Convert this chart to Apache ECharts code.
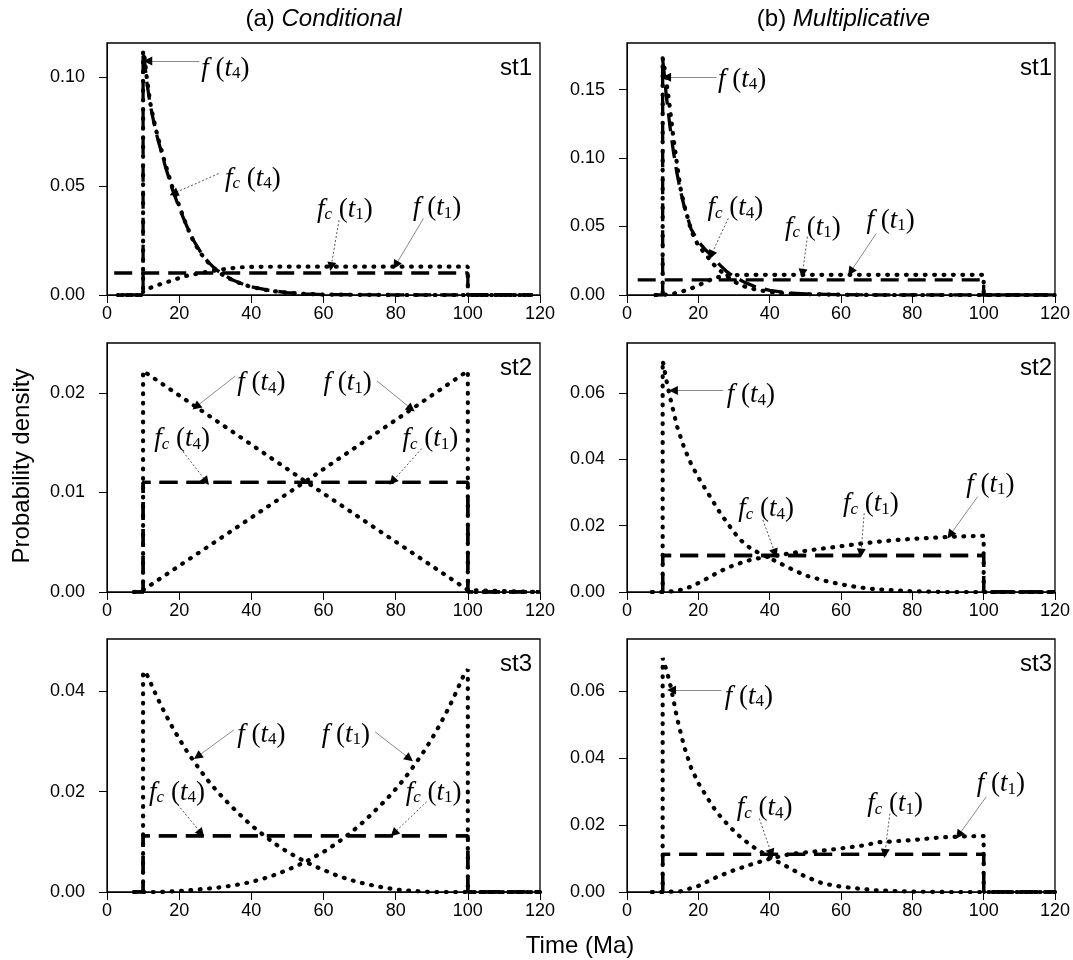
<!DOCTYPE html>
<html><head><meta charset="utf-8">
<script src="https://cdn.jsdelivr.net/npm/echarts@6/dist/echarts.min.js"></script>
<style>html,body{margin:0;padding:0;background:#fff}#c{width:1073px;height:960px}</style>
</head><body><div id="c"></div>
<script>
// ---------- axis ticks ----------
const xTicks = [0, 20, 40, 60, 80, 100, 120];
const A1_yTicks = [0, 0.05, 0.10];
const B1_yTicks = [0, 0.05, 0.10, 0.15];
const A2_yTicks = [0, 0.01, 0.02];
const B2_yTicks = [0, 0.02, 0.04, 0.06];
const A3_yTicks = [0, 0.02, 0.04];
const B3_yTicks = [0, 0.02, 0.04, 0.06];
const yMaxes = [0.1156, 0.184, 0.025, 0.075, 0.0504, 0.0755];
const panelNames = ['st1', 'st1', 'st2', 'st2', 'st3', 'st3'];

// ---------- (a) Conditional, st1 ----------
const A1_t4_x = [4, 10, 10, 10.5, 11, 12, 13, 14, 15, 16, 18, 20, 22, 24, 26, 28, 30, 32, 35, 38, 40, 45, 50, 55, 60, 70, 80, 100, 118];
const A1_f_t4 = [0, 0, 0.112, 0.108, 0.100, 0.088, 0.080, 0.073, 0.067, 0.061, 0.050, 0.041, 0.032, 0.0245, 0.019, 0.015, 0.0118, 0.0093, 0.0066, 0.0047, 0.0037, 0.002, 0.001, 0.0005, 0.0002, 0.0001, 0, 0, 0];
const A1_fc_t4 = [0, 0, 0.112, 0.106, 0.098, 0.087, 0.079, 0.072, 0.066, 0.060, 0.049, 0.040, 0.032, 0.025, 0.0195, 0.0152, 0.012, 0.0095, 0.0068, 0.0048, 0.0038, 0.0021, 0.0011, 0.0005, 0.0002, 0.0001, 0, 0, 0];
const A1_t1_x = [3, 10, 10, 12, 14, 16, 18, 20, 22, 25, 28, 31, 34, 37, 40, 50, 60, 70, 80, 90, 100, 100, 118];
const A1_f_t1 = [0, 0, 0.002, 0.0033, 0.0045, 0.0056, 0.0066, 0.0078, 0.0088, 0.0098, 0.0107, 0.0115, 0.0122, 0.0127, 0.0129, 0.013, 0.013, 0.013, 0.013, 0.013, 0.013, 0, 0];
const A1_c1_x = [2, 100, 100, 118];
const A1_fc_t1 = [0.0101, 0.0101, 0, 0];

// ---------- (b) Multiplicative, st1 ----------
const B1_t4_x = [8, 10, 10, 10.5, 11, 12, 13, 14, 15, 16, 18, 20, 22, 24, 26, 28, 30, 33, 36, 40, 45, 50, 60, 70, 100, 120];
const B1_f_t4 = [0, 0, 0.173, 0.166, 0.157, 0.137, 0.115, 0.096, 0.078, 0.066, 0.047, 0.036, 0.030, 0.023, 0.018, 0.0138, 0.0098, 0.0062, 0.004, 0.0022, 0.0011, 0.0006, 0.0002, 0, 0, 0];
const B1_fc_t4 = [0, 0, 0.172, 0.160, 0.146, 0.124, 0.105, 0.089, 0.076, 0.065, 0.048, 0.039, 0.033, 0.028, 0.022, 0.017, 0.0135, 0.0092, 0.006, 0.0034, 0.0016, 0.0008, 0.0002, 0, 0, 0];
const B1_t1_x = [8, 10, 13, 16, 19, 22, 25, 28, 31, 35, 40, 50, 60, 70, 80, 90, 100, 100, 120];
const B1_f_t1 = [0, 0, 0.001, 0.003, 0.0058, 0.0095, 0.0128, 0.0143, 0.0146, 0.0147, 0.0147, 0.0147, 0.0147, 0.0147, 0.0147, 0.0147, 0.0147, 0, 0];
const B1_c1_x = [3, 100, 100, 120];
const B1_fc_t1 = [0.011, 0.011, 0, 0];

// ---------- (a) Conditional, st2 ----------
const A2_t4_x = [7.5, 10, 10, 55, 100, 100, 120];
const A2_f_t4 = [0, 0, 0.0222, 0.0111, 0.0002, 0, 0];
const A2_t1_x = [7.5, 10, 55, 100, 100, 120];
const A2_f_t1 = [0, 0.0002, 0.0111, 0.0222, 0, 0];
const A2_c_x = [7.5, 10, 10, 100, 100, 120];
const A2_fc_t4 = [0, 0, 0.011, 0.011, 0, 0];
const A2_fc_t1 = [0, 0, 0.011, 0.011, 0, 0];

// ---------- (b) Multiplicative, st2 ----------
const B2_t4_x = [7, 10, 10, 10.5, 11, 12, 13, 14, 16, 18, 20, 22, 24, 26, 28, 30, 32, 35, 38, 40, 45, 50, 55, 60, 65, 70, 80, 90, 100, 120];
const B2_f_t4 = [0, 0, 0.0697, 0.067, 0.064, 0.059, 0.0545, 0.050, 0.0435, 0.0385, 0.0345, 0.031, 0.0275, 0.024, 0.021, 0.018, 0.0155, 0.0128, 0.0113, 0.0102, 0.0075, 0.005, 0.0035, 0.0023, 0.0014, 0.0008, 0.0002, 0, 0, 0];
const B2_t1_x = [7, 10, 14, 18, 22, 26, 30, 35, 40, 45, 50, 55, 60, 65, 70, 75, 80, 85, 90, 95, 100, 100, 120];
const B2_f_t1 = [0, 0, 0.0003, 0.0016, 0.0038, 0.0062, 0.0081, 0.0098, 0.0107, 0.0115, 0.0124, 0.0131, 0.0138, 0.0145, 0.0151, 0.0156, 0.016, 0.0163, 0.0166, 0.0168, 0.0169, 0, 0];
const B2_c_x = [10, 10, 100, 100, 120];
const B2_fc_t4 = [0, 0.011, 0.011, 0, 0];
const B2_fc_t1 = [0, 0.011, 0.011, 0, 0];

// ---------- (a) Conditional, st3 ----------
const A3_t4_x = [7.5, 10, 10, 11, 12, 14, 16, 18, 20, 22, 24, 26, 28, 30, 32, 34, 36, 38, 40, 42, 44, 46, 48, 50, 52, 55, 58, 61, 64, 67, 70, 75, 80, 85, 90, 100, 120];
const A3_f_t4 = [0, 0, 0.0439, 0.0434, 0.0418, 0.0386, 0.0357, 0.033, 0.0305, 0.0282, 0.0261, 0.0241, 0.0222, 0.0205, 0.0189, 0.0174, 0.016, 0.0146, 0.0133, 0.0121, 0.011, 0.0099, 0.0089, 0.008, 0.0072, 0.006, 0.005, 0.0041, 0.0032, 0.0025, 0.0019, 0.0011, 0.0005, 0.0002, 0, 0, 0];
const A3_t1_x = [7.5, 10, 15, 20, 25, 30, 35, 40, 45, 50, 55, 58, 61, 64, 67, 70, 72, 74, 76, 78, 80, 82, 84, 86, 88, 90, 92, 94, 96, 98, 99, 100, 100, 120];
const A3_f_t1 = [0, 0, 0, 0.0002, 0.0005, 0.0008, 0.0013, 0.002, 0.003, 0.0044, 0.006, 0.0072, 0.0084, 0.0099, 0.0115, 0.0133, 0.0146, 0.016, 0.0174, 0.0189, 0.0205, 0.0222, 0.0241, 0.0261, 0.0282, 0.0305, 0.033, 0.0357, 0.0386, 0.0418, 0.0434, 0.0443, 0, 0];
const A3_c_x = [7.5, 10, 10, 100, 100, 120];
const A3_fc_t4 = [0, 0, 0.0112, 0.0112, 0, 0];
const A3_fc_t1 = [0, 0, 0.0112, 0.0112, 0, 0];

// ---------- (b) Multiplicative, st3 ----------
const B3_t4_x = [7, 10, 10, 10.5, 11, 12, 13, 14, 16, 18, 20, 22, 24, 26, 28, 30, 32, 35, 38, 40, 45, 50, 55, 60, 65, 70, 80, 90, 100, 120];
const B3_f_t4 = [0, 0, 0.0698, 0.068, 0.0665, 0.0625, 0.0575, 0.052, 0.0435, 0.037, 0.0325, 0.029, 0.0256, 0.0228, 0.0204, 0.0182, 0.0162, 0.0137, 0.0117, 0.0103, 0.0075, 0.0046, 0.0025, 0.0016, 0.001, 0.0005, 0.0001, 0, 0, 0];
const B3_t1_x = [7, 10, 15, 20, 25, 30, 35, 40, 46, 52, 60, 67, 70, 80, 88, 95, 100, 100, 120];
const B3_f_t1 = [0, 0, 0.0002, 0.0018, 0.0044, 0.0065, 0.0083, 0.0099, 0.0114, 0.012, 0.013, 0.014, 0.0148, 0.0155, 0.0163, 0.0166, 0.0167, 0, 0];
const B3_c_x = [10, 10, 100, 100, 120];
const B3_fc_t4 = [0, 0.0112, 0.0112, 0, 0];
const B3_fc_t1 = [0, 0.0112, 0.0112, 0, 0];

// ---------- annotations: [key, labelX, labelY, tailX, tailY, tipX, tipY] (data coords) ----------
const A1_notes = [['f4', 32.8, 0.105, 25.6, 0.1073, 11.3, 0.1073], ['fc4', 40.4, 0.0546, 30.9, 0.0557, 18.5, 0.0466], ['fc1', 65.9, 0.0402, 64.3, 0.0343, 62.1, 0.013], ['f1', 91.5, 0.0409, 87.7, 0.0351, 80.0, 0.0137]];
const B1_notes = [['f4', 32.3, 0.159, 25.1, 0.159, 11.1, 0.159], ['fc4', 30.4, 0.0652, 28.4, 0.056, 23.6, 0.0292], ['fc1', 52.1, 0.0511, 50.6, 0.0426, 49.2, 0.0158], ['f1', 73.9, 0.056, 69.9, 0.045, 62.7, 0.017]];
const A2_notes = [['f4', 42.8, 0.0212, 35.6, 0.0217, 24.7, 0.0186], ['f1', 66.7, 0.0212, 74.8, 0.0212, 84.3, 0.0184], ['fc4', 20.8, 0.0156, 20.4, 0.0144, 27.5, 0.0111], ['fc1', 89.6, 0.0156, 87.2, 0.0144, 79.1, 0.0111]];
const B2_notes = [['f4', 34.7, 0.060, 27, 0.0607, 13, 0.0607], ['fc4', 39.0, 0.0257, 38.1, 0.0217, 41.5, 0.0117], ['fc1', 68.4, 0.0272, 66.5, 0.0237, 65.6, 0.0117], ['f1', 101.9, 0.033, 98.3, 0.0287, 90.6, 0.0172]];
const A3_notes = [['f4', 42.8, 0.0318, 35.2, 0.0323, 25.1, 0.027], ['f1', 66.2, 0.0318, 74.3, 0.0319, 83.8, 0.0266], ['fc4', 19.4, 0.0203, 18.9, 0.018, 26.1, 0.0117], ['fc1', 90.5, 0.0203, 88.6, 0.018, 79.5, 0.0117]];
const B3_notes = [['f4', 34.2, 0.0591, 26.5, 0.0603, 12.5, 0.0603], ['fc4', 38.6, 0.0257, 37.1, 0.0219, 40.5, 0.0115], ['fc1', 75.2, 0.0269, 73.7, 0.0234, 72.3, 0.0115], ['f1', 104.8, 0.0329, 100.7, 0.0284, 93, 0.017]];

// ---------- styling ----------
const SANS = 'Liberation Sans, Arial, sans-serif';
const SERIF = 'Liberation Serif, Times New Roman, serif';
const gridBoxes = [
  {left: 107, top: 43, width: 433, height: 252},
  {left: 627, top: 43, width: 433, height: 252},
  {left: 107, top: 343, width: 433, height: 249},
  {left: 627, top: 343, width: 433, height: 249},
  {left: 107, top: 639, width: 433, height: 253},
  {left: 627, top: 639, width: 433, height: 253}
];
const dotStyle = {color: '#000', width: 4.2, type: [0.8, 8.6], cap: 'round'};
const dashStyle = {color: '#000', width: 3.3, type: [18, 9], cap: 'butt'};
const fArrow = {color: '#8a8a8a', width: 1, type: 'solid'};
const fcArrow = {color: '#555', width: 1, type: [2, 2]};
const headStyle = {color: '#000', width: 0.5, type: 'solid'};

const noteText = {
  f4: '{i|f}{r| (}{i|t}{s|4}{r|)}',
  f1: '{i|f}{r| (}{i|t}{s|1}{r|)}',
  fc4: '{i|f}{si|c}{r| (}{i|t}{s|4}{r|)}',
  fc1: '{i|f}{si|c}{r| (}{i|t}{s|1}{r|)}'
};
const rich = {
  i: {fontFamily: SERIF, fontStyle: 'italic', fontSize: 27, lineHeight: 32, verticalAlign: 'bottom', color: '#000', textBorderWidth: 0},
  r: {fontFamily: SERIF, fontSize: 27, lineHeight: 32, verticalAlign: 'bottom', color: '#000', textBorderWidth: 0},
  s: {fontFamily: SERIF, fontSize: 17, lineHeight: 16, verticalAlign: 'bottom', color: '#000', textBorderWidth: 0},
  si: {fontFamily: SERIF, fontStyle: 'italic', fontSize: 17, lineHeight: 16, verticalAlign: 'bottom', color: '#000', textBorderWidth: 0}
};

const panels = [
  {yTicks: A1_yTicks, notes: A1_notes, dashed: [[A1_t4_x, A1_fc_t4], [A1_c1_x, A1_fc_t1]], dotted: [[A1_t4_x, A1_f_t4], [A1_t1_x, A1_f_t1]]},
  {yTicks: B1_yTicks, notes: B1_notes, dashed: [[B1_t4_x, B1_fc_t4], [B1_c1_x, B1_fc_t1]], dotted: [[B1_t4_x, B1_f_t4], [B1_t1_x, B1_f_t1]]},
  {yTicks: A2_yTicks, notes: A2_notes, dashed: [[A2_c_x, A2_fc_t4], [A2_c_x, A2_fc_t1]], dotted: [[A2_t4_x, A2_f_t4], [A2_t1_x, A2_f_t1]]},
  {yTicks: B2_yTicks, notes: B2_notes, dashed: [[B2_c_x, B2_fc_t4], [B2_c_x, B2_fc_t1]], dotted: [[B2_t4_x, B2_f_t4], [B2_t1_x, B2_f_t1]]},
  {yTicks: A3_yTicks, notes: A3_notes, dashed: [[A3_c_x, A3_fc_t4], [A3_c_x, A3_fc_t1]], dotted: [[A3_t4_x, A3_f_t4], [A3_t1_x, A3_f_t1]]},
  {yTicks: B3_yTicks, notes: B3_notes, dashed: [[B3_c_x, B3_fc_t4], [B3_c_x, B3_fc_t1]], dotted: [[B3_t4_x, B3_f_t4], [B3_t1_x, B3_f_t1]]}
];

const grid = [], xAxis = [], yAxis = [], series = [], graphic = [];
panels.forEach((p, gi) => {
  const g = gridBoxes[gi];
  grid.push(Object.assign({show: true, borderColor: '#000', borderWidth: 1.3, backgroundColor: 'transparent'}, g));
  xAxis.push({
    type: 'value', gridIndex: gi, min: 0, max: 120, interval: 20,
    axisLine: {show: true, onZero: false, lineStyle: {color: '#000', width: 1}},
    axisTick: {show: true, length: 8, customValues: xTicks, lineStyle: {color: '#000', width: 1}},
    axisLabel: {customValues: xTicks, fontSize: 18, color: '#000', fontFamily: SANS, margin: 10},
    splitLine: {show: false}
  });
  yAxis.push({
    type: 'value', gridIndex: gi, min: 0, max: yMaxes[gi],
    axisLine: {show: true, onZero: false, lineStyle: {color: '#000', width: 1}},
    axisTick: {show: true, length: 8, customValues: p.yTicks, lineStyle: {color: '#000', width: 1}},
    axisLabel: {customValues: p.yTicks, fontSize: 18, color: '#000', fontFamily: SANS, margin: 22,
      formatter: v => Number(v).toFixed(2)},
    splitLine: {show: false}
  });
  const mk = (pair, style, z) => ({
    type: 'line', xAxisIndex: gi, yAxisIndex: gi, silent: true, animation: false,
    symbol: 'none', showSymbol: false, z: z,
    data: pair[0].map((x, i) => [x, pair[1][i]]),
    lineStyle: style
  });
  p.dashed.forEach(pr => series.push(mk(pr, dashStyle, 2)));
  p.dotted.forEach(pr => series.push(mk(pr, dotStyle, 3)));
  // arrow shafts (no heads)
  const shafts = p.notes.map(n => [
    {coord: [n[3], n[4]], lineStyle: n[0].indexOf('fc') === 0 ? fcArrow : fArrow},
    {coord: [n[5], n[6]]}
  ]);
  // black arrow heads: a tiny segment ending at the tip, along the same direction
  const heads = p.notes.map(n => [
    {coord: [n[3] + 0.95 * (n[5] - n[3]), n[4] + 0.95 * (n[6] - n[4])], lineStyle: headStyle, symbol: 'none'},
    {coord: [n[5], n[6]], symbol: 'triangle', symbolSize: 9}
  ]);
  // annotation text: invisible points carrying the labels
  series.push({
    type: 'scatter', xAxisIndex: gi, yAxisIndex: gi, silent: true, animation: false, z: 5,
    symbolSize: 1, itemStyle: {color: '#fff', opacity: 0},
    data: p.notes.map(n => ({value: [n[1], n[2]], key: n[0]})),
    label: {show: true, position: 'inside', color: '#000', opacity: 1, textBorderWidth: 0,
      formatter: q => noteText[q.data.key], rich: rich},
    labelLayout: {hideOverlap: false},
    markLine: {
      silent: true, animation: false, symbol: ['none', 'none'], symbolSize: 9,
      label: {show: false}, lineStyle: {type: 'solid', width: 1, color: '#888'},
      emphasis: {disabled: true},
      data: shafts.concat(heads)
    }
  });
  graphic.push({
    type: 'text', x: g.left + g.width - 8, y: g.top + 25, silent: true,
    style: {text: panelNames[gi], fontSize: 24, fontFamily: SANS, fill: '#000',
      align: 'right', textAlign: 'right', verticalAlign: 'middle', textVerticalAlign: 'middle'}
  });
});

graphic.push(
  {type: 'text', x: 323.5, y: 19, silent: true,
   style: {text: '(a) {it|Conditional}', fontSize: 24, fontFamily: SANS, fill: '#000',
     rich: {it: {fontStyle: 'italic', fontSize: 24, fontFamily: SANS}},
     align: 'center', textAlign: 'center', verticalAlign: 'middle', textVerticalAlign: 'middle'}},
  {type: 'text', x: 843.5, y: 19, silent: true,
   style: {text: '(b) {it|Multiplicative}', fontSize: 24, fontFamily: SANS, fill: '#000',
     rich: {it: {fontStyle: 'italic', fontSize: 24, fontFamily: SANS}},
     align: 'center', textAlign: 'center', verticalAlign: 'middle', textVerticalAlign: 'middle'}},
  {type: 'text', x: 22.5, y: 466, rotation: Math.PI / 2, silent: true,
   style: {text: 'Probability density', fontSize: 24, fontFamily: SANS, fill: '#000',
     align: 'center', textAlign: 'center', verticalAlign: 'middle', textVerticalAlign: 'middle'}},
  {type: 'text', x: 580, y: 946, silent: true,
   style: {text: 'Time (Ma)', fontSize: 24, fontFamily: SANS, fill: '#000',
     align: 'center', textAlign: 'center', verticalAlign: 'middle', textVerticalAlign: 'middle'}}
);

const chart = echarts.init(document.getElementById('c'), null, {renderer: 'canvas'});
chart.setOption({
  animation: false,
  backgroundColor: '#fff',
  grid: grid, xAxis: xAxis, yAxis: yAxis, series: series, graphic: graphic
});
</script></body></html>
